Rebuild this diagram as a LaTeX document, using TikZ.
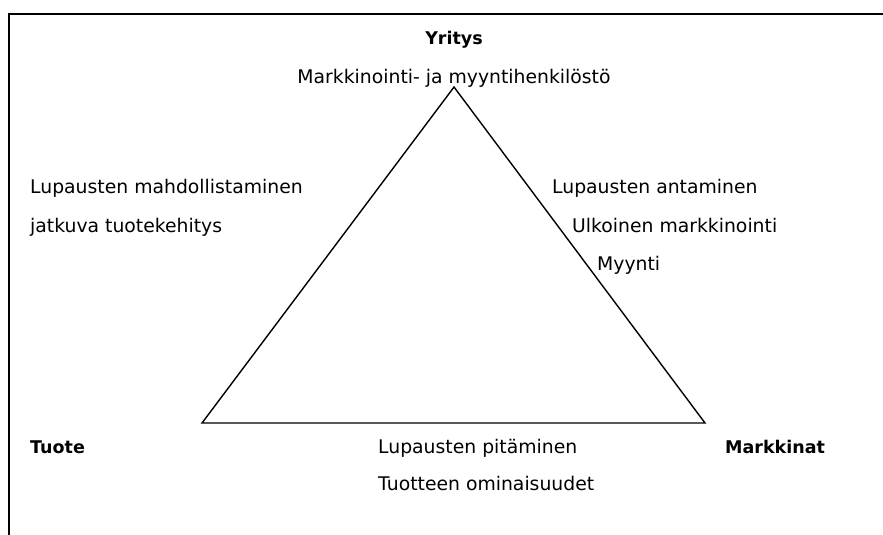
\documentclass[tikz,border=0pt]{standalone}
\usepackage{fontspec}
\setmainfont{DejaVu Sans}
\begin{document}
\begin{tikzpicture}[x=1pt,y=-1pt,
  lbl/.style={inner sep=0pt,font=\fontsize{18.8}{22}\selectfont},
  head/.style={lbl,font=\fontsize{17.5}{22}\selectfont\bfseries},
  frame/.style={line width=1.8pt},
  edge/.style={line width=1.4pt,line join=miter}]
\useasboundingbox (0,0) rectangle (883,535);

% open frame: left side and top only
\draw[frame] (9,535) -- (9,14) -- (883,14);

% triangle corners
\coordinate (top) at (454,87);
\coordinate (left) at (202,423);
\coordinate (right) at (705,423);
\draw[edge] (top) -- (right) -- (left) -- cycle;

% corner headings
\node[head,anchor=base] (yritys) at (454,45) {Yritys};
\node[lbl,anchor=base] (henk) at (454,83) {Markkinointi- ja myyntihenkilöstö};
\node[head,anchor=base west] (tuote) at (30,453) {Tuote};
\node[head,anchor=base west] (markkinat) at (725,453) {Markkinat};

% left side
\node[lbl,anchor=base west] (mahd) at (30,193) {Lupausten mahdollistaminen};
\node[lbl,anchor=base west] (kehitys) at (30,232) {jatkuva tuotekehitys};

% right side
\node[lbl,anchor=base west] (antam) at (552,193) {Lupausten antaminen};
\node[lbl,anchor=base west] (ulk) at (572,232) {Ulkoinen markkinointi};
\node[lbl,anchor=base west] (myynti) at (597,270) {Myynti};

% bottom side
\node[lbl,anchor=base west] (pit) at (378,453) {Lupausten pitäminen};
\node[lbl,anchor=base west] (omin) at (378,490) {Tuotteen ominaisuudet};
\end{tikzpicture}
\end{document}
